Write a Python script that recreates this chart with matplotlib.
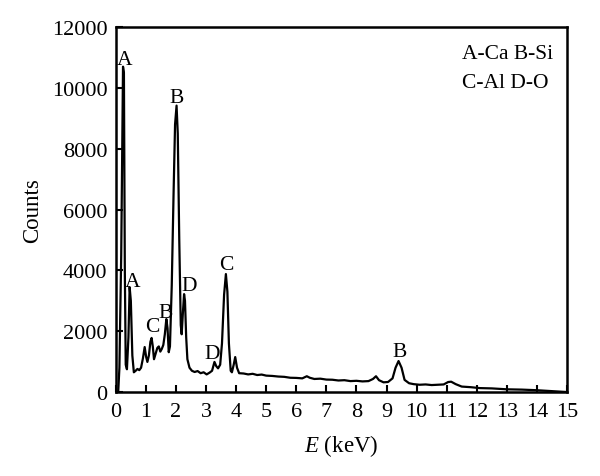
import matplotlib
matplotlib.use("Agg")
import matplotlib.pyplot as plt

energy = [0.00, 0.08, 0.12, 0.18, 0.24, 0.27, 0.30, 0.33, 0.37, 0.42, 0.46, 0.50, 0.55, 0.60,
          0.66, 0.72, 0.78, 0.84, 0.90, 0.96, 1.01, 1.05, 1.10, 1.15, 1.19, 1.23, 1.27, 1.32,
          1.38, 1.43, 1.48, 1.53, 1.58, 1.63, 1.68, 1.72, 1.76, 1.80, 1.86, 1.92, 1.97, 2.02,
          2.06, 2.11, 2.16, 2.19, 2.23, 2.27, 2.30, 2.34, 2.38, 2.45, 2.53, 2.62, 2.72, 2.82,
          2.92, 3.02, 3.12, 3.20, 3.28, 3.34, 3.40, 3.47, 3.53, 3.60, 3.66, 3.71, 3.76, 3.82,
          3.86, 3.92, 3.97, 4.03, 4.10, 4.25, 4.40, 4.55, 4.70, 4.85, 5.00, 5.20, 5.40, 5.60,
          5.80, 6.00, 6.20, 6.35, 6.45, 6.60, 6.80, 7.00, 7.20, 7.40, 7.60, 7.80, 8.00, 8.20,
          8.40, 8.55, 8.65, 8.75, 8.90, 9.05, 9.20, 9.30, 9.40, 9.50, 9.60, 9.75, 9.90, 10.10,
          10.30, 10.50, 10.70, 10.90, 11.05, 11.15, 11.30, 11.50, 11.80, 12.10, 12.50, 13.00,
          13.50, 14.00, 14.50, 15.00]
counts = [0, 0, 800, 4500, 10700, 10500, 4000, 900, 750, 1800, 3450, 3000, 1200, 650,
          700, 760, 720, 800, 1100, 1480, 1150, 990, 1200, 1650, 1780, 1500, 1080, 1250,
          1450, 1500, 1330, 1420, 1550, 1900, 2400, 2100, 1310, 1500, 3500, 6500, 8800, 9420,
          8500, 5000, 2200, 1900, 2600, 3220, 3000, 1800, 1080, 800, 700, 660, 690, 620,
          650, 580, 640, 700, 990, 850, 780, 900, 1600, 3200, 3880, 3300, 1600, 700,
          650, 900, 1150, 800, 620, 610, 580, 600, 560, 575, 540, 530, 510, 500,
          470, 465, 450, 520, 470, 430, 440, 410, 405, 380, 390, 360, 370, 350,
          360, 430, 520, 390, 320, 330, 450, 800, 1020, 800, 400, 290, 260, 240,
          250, 230, 240, 250, 330, 340, 260, 180, 160, 130, 120, 90,
          80, 60, 30, 0]

peak_labels = ["A", "A", "C", "B", "B", "D", "D", "C", "B"]
peak_label_x = [0.30, 0.57, 1.23, 1.67, 2.03, 2.43, 3.20, 3.67, 9.43]
peak_label_y = [10950, 3620, 2170, 2630, 9670, 3490, 1280, 4180, 1320]
legend_lines = ["A-Ca B-Si", "C-Al D-O"]

plt.rcParams["font.family"] = ["Liberation Serif", "DejaVu Serif"]
plt.rcParams["mathtext.fontset"] = "custom"
plt.rcParams["mathtext.rm"] = "Liberation Serif"
plt.rcParams["mathtext.it"] = "Liberation Serif:italic"

fig = plt.figure(figsize=(6.0, 4.77), dpi=100)
ax = fig.add_axes([0.193, 0.176, 0.752, 0.765])
ax.plot(energy, counts, color="black", lw=1.6)

for lab, x, y in zip(peak_labels, peak_label_x, peak_label_y):
    ax.text(x, y, lab, ha="center", va="center", fontsize=15.5)

ax.text(0.768, 0.955, legend_lines[0], transform=ax.transAxes, fontsize=15.5, ha="left", va="top")
ax.text(0.768, 0.875, legend_lines[1], transform=ax.transAxes, fontsize=15.5, ha="left", va="top")

ax.set_xlim(0, 15)
ax.set_ylim(0, 12000)
ax.set_xticks(range(0, 16))
ax.set_yticks(range(0, 12001, 2000))
ax.tick_params(direction="in", length=5, width=1.5, labelsize=16)
ax.tick_params(axis="x", pad=7)
ax.tick_params(axis="y", pad=6)
for s in ax.spines.values():
    s.set_linewidth(1.8)
ax.set_xlabel("$E$ (keV)", fontsize=16.5, labelpad=8)
ax.set_ylabel("Counts", fontsize=16.5, labelpad=6)

fig.savefig("out.png", dpi=100)
